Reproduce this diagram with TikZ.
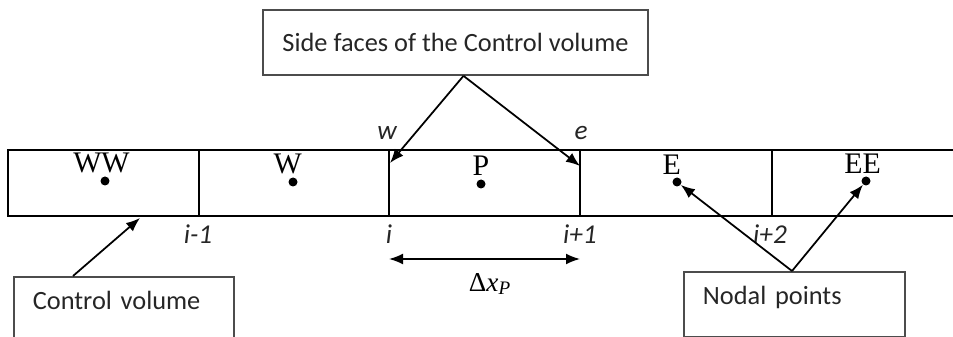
\documentclass[tikz,border=0pt]{standalone}
\usepackage{fontspec}
\setmainfont{Liberation Serif}
\setsansfont{Carlito}
\usepackage{xcolor}
\usepackage{tikz}
\usetikzlibrary{arrows.meta,positioning,calc}

\begin{document}
\begin{tikzpicture}[x=0.02cm, y=-0.02cm,
  box/.style={draw=black!70, line width=1pt, font=\sffamily\fontsize{15}{17}\selectfont, text=black!85},
  labbox/.style={box, anchor=north west, align=left, inner xsep=0.38cm, inner ysep=0pt, text height=0.66cm},
  arrow/.style={-{Latex[length=2.8mm, width=2.2mm]}, line width=1pt},
  dimarrow/.style={{Latex[length=2.8mm, width=2.2mm]}-{Latex[length=2.8mm, width=2.2mm]}, line width=1pt},
  dot/.style={circle, fill=black, inner sep=0pt, minimum size=0.18cm},
  cellname/.style={inner sep=0pt, font=\fontsize{17}{19}\selectfont},
  face/.style={font=\sffamily\itshape\fontsize{15.5}{17}\selectfont, text=black!85},
  strip/.style={line width=1pt},
]
\path[use as bounding box, clip] (0,0) rectangle (953,337);

% the row of cells
\draw[strip] (960,150) -- (8,150) -- (8,216) -- (960,216);
\foreach \x in {199,389,580,772}
  \draw[strip] (\x,150) -- (\x,216);

% nodal points
\node[dot] (dWW) at (105,181) {};
\node[dot] (dW) at (293,182) {};
\node[dot] (dP) at (481,184) {};
\node[dot] (dE) at (677,182) {};
\node[dot] (dEE) at (866,181) {};
\node[cellname, above=0.06cm of dWW, xshift=-2] (WW) {WW};
\node[cellname, above=0.06cm of dW, xshift=-3] (W) {W};
\node[cellname, above=0.07cm of dP] (P) {P};
\node[cellname, above=0.04cm of dE, xshift=-3] (E) {E};
\node[cellname, above=0.04cm of dEE, xshift=-2] (EE) {EE};

% face labels
\node[face] (fw-lab) at (387,133) {w};
\node[face] (fe-lab) at (581,133) {e};
\node[face] (im1) at (198,234) {i-1};
\node[face] (i0) at (389,234) {i};
\node[face] (ip1) at (580,234) {i+1};
\node[face] (ip2) at (770,234) {i+2};

% width of the control volume
\coordinate (dl) at (389,259);
\coordinate (dr) at (580,259);
\draw[dimarrow] (dl) -- (dr);
\node[font=\fontsize{15.5}{17}\selectfont] (dx) at (490,284) {Δ\textit{x}\textsubscript{\textit{P}}};

% call-out boxes
\node[box, minimum width=7.7cm, minimum height=1.3cm] (sides) at (455.5,42.5) {Side faces of the Control volume};
\node[labbox, text width=3.64cm, text depth=1.2cm] (cv) at (13,276) {Control volume};
\node[labbox, text width=3.66cm, text depth=0.64cm] (np) at (683,271) {Nodal points};

\coordinate (fw) at (390,163);
\coordinate (fe) at (580,166);
\coordinate (cvtip) at (140,218);

\draw[arrow] ($(sides.south)+(8,0)$) -- (fw);
\draw[arrow] ($(sides.south)+(8,0)$) -- (fe);
\draw[arrow] ($(cv.north west)+(60,0)$) -- (cvtip);
\draw[arrow] ($(np.north west)+(109,0)$) -- (dE);
\draw[arrow] ($(np.north west)+(109,0)$) -- (dEE);

\end{tikzpicture}
\end{document}
